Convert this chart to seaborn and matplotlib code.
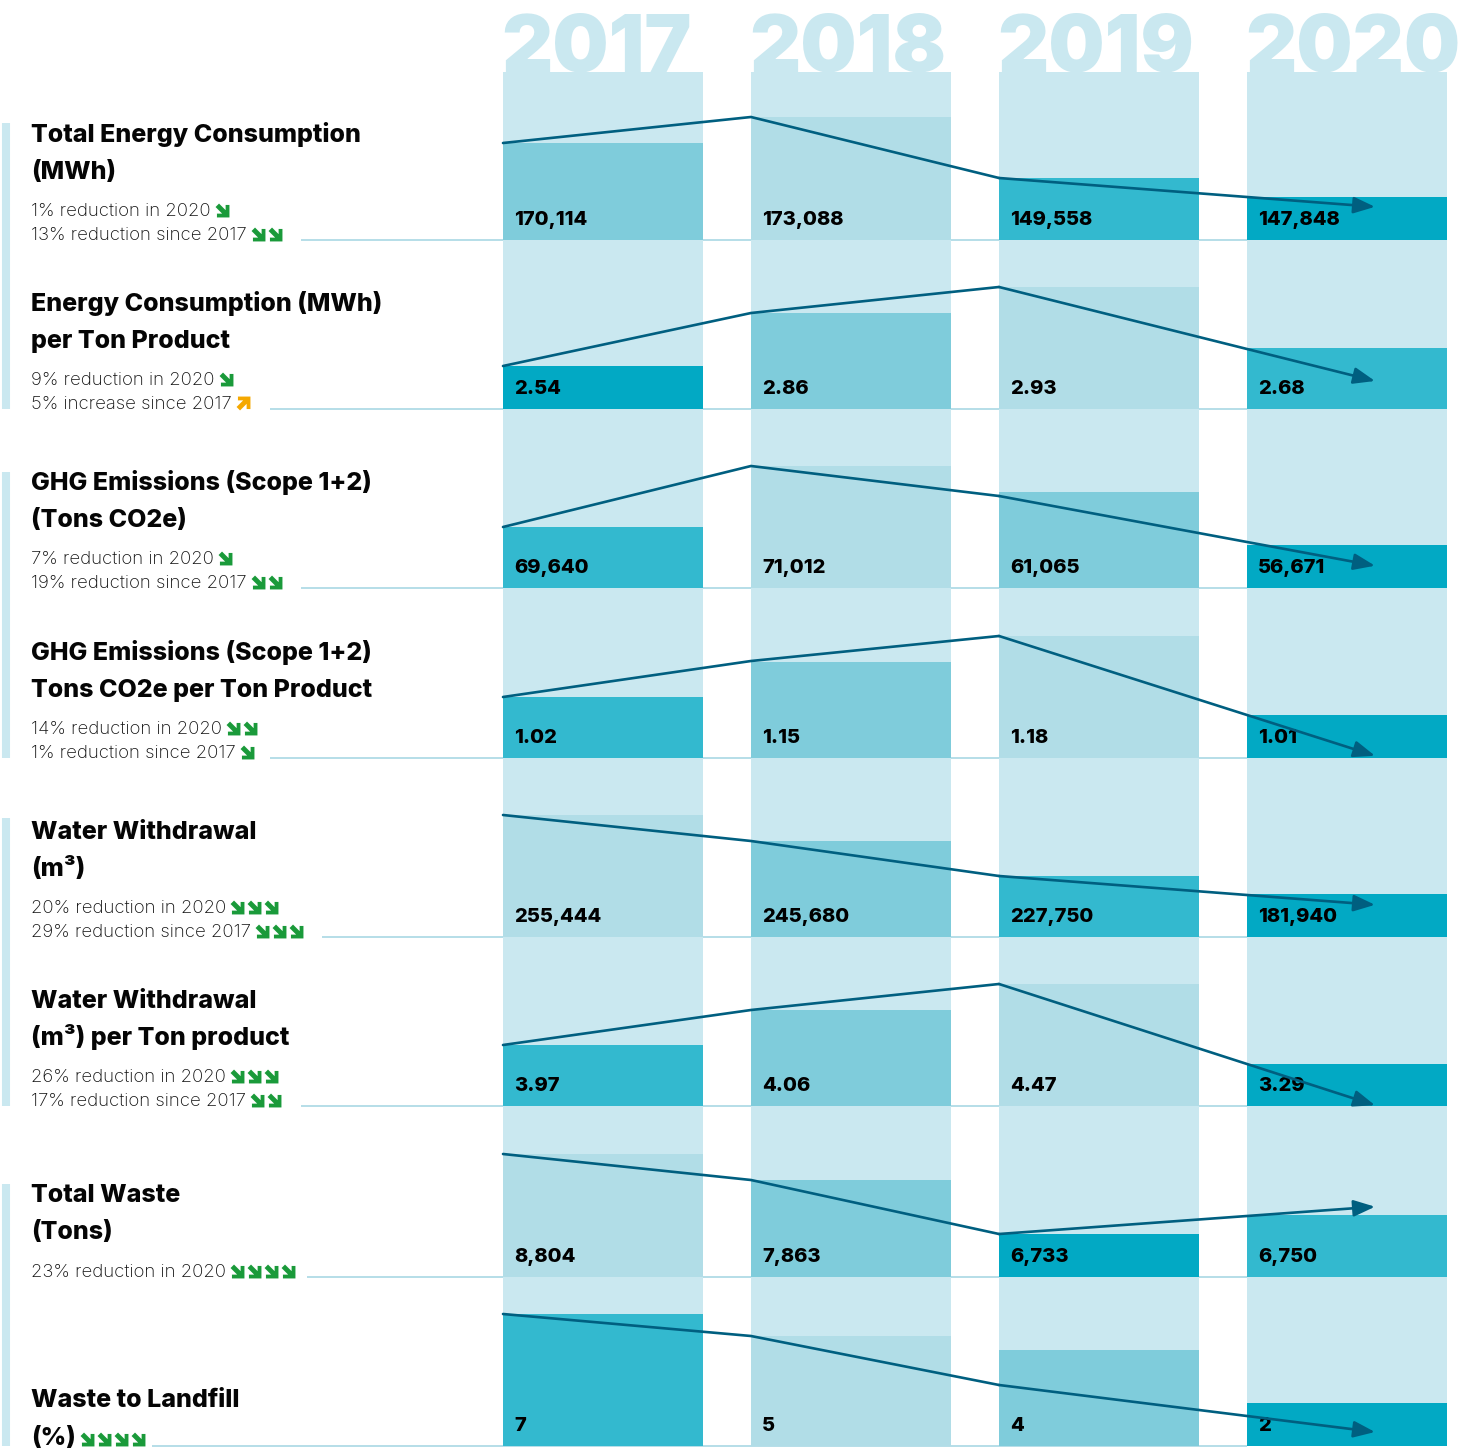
import pandas as pd
import seaborn as sns
import matplotlib.pyplot as plt
from matplotlib.path import Path

W, H = 1461, 1448

years = [2017, 2018, 2019, 2020]
values = [
    ['170,114', '173,088', '149,558', '147,848'],
    ['2.54', '2.86', '2.93', '2.68'],
    ['69,640', '71,012', '61,065', '56,671'],
    ['1.02', '1.15', '1.18', '1.01'],
    ['255,444', '245,680', '227,750', '181,940'],
    ['3.97', '4.06', '4.47', '3.29'],
    ['8,804', '7,863', '6,733', '6,750'],
    ['7', '5', '4', '2'],
]
# drawn heights, the chart is not to scale so these are read off the picture
bar_levels = [
    [97, 123, 62, 43],
    [43, 96, 122, 61],
    [61, 122, 96, 43],
    [61, 96, 122, 43],
    [122, 96, 61, 43],
    [61, 96, 122, 42],
    [123, 97, 43, 62],
    [132, 110, 96, 43],
]
line_levels = [
    [97, 123, 62, 43],
    [43, 96, 122, 60],
    [61, 122, 92, 46],
    [61, 97, 122, 43],
    [122, 96, 61, 42],
    [61, 96, 122, 42],
    [123, 97, 43, 61],
    [132, 110, 61, 30],
]
shades = [
    [3, 4, 2, 1],
    [1, 3, 4, 2],
    [2, 4, 3, 1],
    [2, 3, 4, 1],
    [4, 3, 2, 1],
    [2, 3, 4, 1],
    [4, 3, 1, 2],
    [2, 4, 3, 1],
]
titles = [
    ['Total Energy Consumption', '(MWh)'],
    ['Energy Consumption (MWh)', 'per Ton Product'],
    ['GHG Emissions (Scope 1+2)', '(Tons CO2e)'],
    ['GHG Emissions (Scope 1+2)', 'Tons CO2e per Ton Product'],
    ['Water Withdrawal', '(m³)'],
    ['Water Withdrawal', '(m³) per Ton product'],
    ['Total Waste', '(Tons)'],
    ['Waste to Landfill', '(%)'],
]
notes = [
    ['1% reduction in 2020', '13% reduction since 2017'],
    ['9% reduction in 2020', '5% increase since 2017'],
    ['7% reduction in 2020', '19% reduction since 2017'],
    ['14% reduction in 2020', '1% reduction since 2017'],
    ['20% reduction in 2020', '29% reduction since 2017'],
    ['26% reduction in 2020', '17% reduction since 2017'],
    ['23% reduction in 2020'],
    [],
]
# negative count = orange up arrows
note_arrows = [[1, 2], [1, -1], [1, 2], [2, 1], [3, 3], [3, 2], [4], []]
title_arrows = [0, 0, 0, 0, 0, 0, 0, 4]

# layout in reference pixels
row_base = [240, 409, 588, 758, 937, 1106, 1277, 1446]
rule_start = [301, 270, 301, 270, 322, 301, 307, 152]
title_offs = [[-98, -61], [-98, -61], [-98, -61], [-98, -61], [-98, -61], [-98, -61], [-75, -38], [-39, -1]]
side_bars = [(123, 409), (472, 758), (818, 1106), (1184, 1446)]
col_px = 248
col_center = 603
bar_w = 200 / col_px
half = bar_w / 2

PALE = '#CAE8F0'
RULE = '#B5DEE8'
LINE = '#005F80'
GREEN = '#1A9A3A'
ORANGE = '#F5A800'
palette = {1: '#02A9C4', 2: '#33B9CF', 3: '#7FCCDB', 4: '#B1DDE7'}

down_arrow = Path([(1, -1), (-0.8, -1), (-0.8, -0.45), (-0.05, -0.45), (-1, 0.5), (-0.5, 1),
                   (0.45, 0.05), (0.45, 0.8), (1, 0.8), (1, -1)], closed=True)
up_arrow = Path([(1, 1), (-0.8, 1), (-0.8, 0.45), (-0.05, 0.45), (-1, -0.5), (-0.5, -1),
                 (0.45, -0.05), (0.45, -0.8), (1, -0.8), (1, 1)], closed=True)

sns.set_theme(style='white')
plt.rcParams['font.family'] = ['Inter', 'DejaVu Sans']

fig = plt.figure(figsize=(W / 100, H / 100), dpi=100)
xlim = (2017 + (0 - col_center) / col_px, 2017 + (W - col_center) / col_px)


def band(top, bottom, z):
    ax = fig.add_axes([0, 1 - bottom / H, 1, (bottom - top) / H], zorder=z)
    ax.patch.set_alpha(0)
    ax.set_axis_off()
    return ax


# pixel layer under the columns
under = band(0, H, 0)
under.set_xlim(0, W)
under.set_ylim(H, 0)
for base, start in zip(row_base, rule_start):
    under.hlines(base - 0.5, start, 1247, color=RULE, lw=1.4)
for top, bottom in side_bars:
    under.vlines(6, top, bottom, color=PALE, lw=5.8)

# pale full height columns
back = band(72, 1446, 1)
sns.barplot(x=years, y=[1] * 4, color=PALE, saturation=1, width=bar_w, native_scale=True,
            linewidth=0, ax=back)
back.set_xlim(xlim)
back.set_ylim(0, 1)
back.set_axis_off()

top = 72
for i, base in enumerate(row_base):
    ax = band(top, base, 2)
    df = pd.DataFrame({'year': years, 'level': bar_levels[i], 'shade': shades[i]})
    sns.barplot(data=df, x='year', y='level', hue='shade', palette=palette, saturation=1, dodge=False,
                width=bar_w, native_scale=True, legend=False, linewidth=0, ax=ax)
    for y, v in zip(years, values[i]):
        ax.text(y - half + 11 / col_px, 15, v, fontsize=14.5, fontweight='heavy', color='black', zorder=2)
    lv = line_levels[i]
    line_x = [y - half for y in years]
    sns.lineplot(x=line_x[:3], y=lv[:3], color=LINE, lw=1.9, sort=False, ax=ax, zorder=3)
    # last stretch runs on past the 2020 bar edge
    tip_x = years[3] - half + 128 / col_px
    tip_y = lv[2] + (lv[3] - lv[2]) * (tip_x - line_x[2]) / (line_x[3] - line_x[2])
    ax.annotate('', xy=(tip_x, tip_y), xytext=(line_x[2], lv[2]), zorder=3, annotation_clip=False,
                arrowprops=dict(arrowstyle='-|>,head_length=1.3,head_width=0.5', mutation_scale=10,
                                color=LINE, lw=1.9, shrinkA=0, shrinkB=0))
    ax.set_xlim(xlim)
    ax.set_ylim(0, base - top)
    ax.set_axis_off()
    top = base

# text layer
over = band(0, H, 3)
over.set_xlim(0, W)
over.set_ylim(H, 0)
renderer = fig.canvas.get_renderer()


def arrows_after(label, n, y):
    end = label.get_window_extent(renderer).x1
    marker = up_arrow if n < 0 else down_arrow
    color = ORANGE if n < 0 else GREEN
    for k in range(abs(n)):
        over.scatter(end + 11 + 17 * k, y - 6, marker=marker, s=100, color=color, linewidths=0)


for y in years:
    over.text(col_center + (y - 2017) * col_px - 102, 71, str(y), fontsize=57, fontweight='black',
              color=PALE, va='baseline')

for i, base in enumerate(row_base):
    for off, t in zip(title_offs[i], titles[i]):
        lab = over.text(31, base + off, t, fontsize=18, fontweight='heavy', color='#050505', va='baseline')
    if title_arrows[i]:
        arrows_after(lab, title_arrows[i], base - 1)
    n_notes = len(notes[i])
    for j, (t, n) in enumerate(zip(notes[i], note_arrows[i])):
        yy = base - 24 * (n_notes - 1 - j)
        lab = over.text(31, yy, t, fontsize=13.4, fontweight='light', color='#111111', va='baseline')
        arrows_after(lab, n, yy)

fig.savefig('out.png', dpi=100)
plt.close(fig)
